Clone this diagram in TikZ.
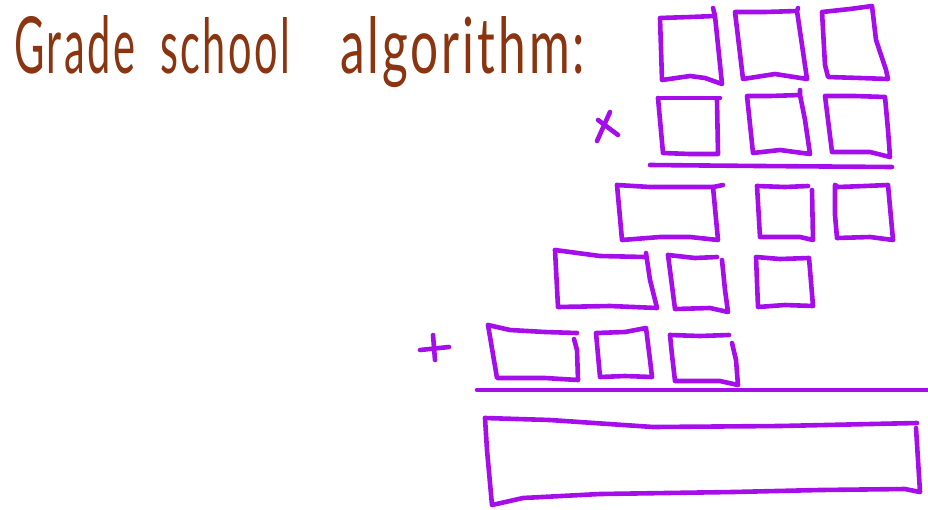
\documentclass[tikz,border=0pt]{standalone}
\usepackage{fontspec}
\setmainfont{Lato}[LetterSpace=6]
\usepackage{graphicx}
\definecolor{ink}{HTML}{A50EEA}
\definecolor{brownink}{HTML}{8A3510}
\tikzset{
  pen/.style={draw=ink, line width=4.6pt, line cap=round, line join=round},
  titletext/.style={text=brownink, inner sep=0pt, anchor=base west}
}
\begin{document}
\begin{tikzpicture}[x=1pt, y=-1pt]
\useasboundingbox (0,0) rectangle (928,509);
% title
\node[titletext] (t1) at (14,73) {\resizebox{121pt}{58pt}{\fontsize{40}{48}\selectfont Grade}};
\node[titletext] (t2) at (160,73) {\resizebox{130pt}{56pt}{\fontsize{40}{48}\selectfont school}};
\node[titletext] (t3) at (340,73) {\resizebox{245pt}{57pt}{\fontsize{40}{48}\selectfont algorithm:}};
% row 1
\draw[pen] (713,8) -- (715,16) -- (690,17) -- (660,18) -- (662,80) -- (690,76) -- (705,78) -- (722,84) -- (715,16);
\draw[pen] (798,8) -- (797,11) -- (765,12) -- (735,12) -- (743,79) -- (775,74) -- (807,79) -- (797,11);
\draw[pen] (822,12) -- (850,9) -- (872,6) -- (876,40) -- (886,70) -- (888,79) -- (860,78) -- (828,77) -- (825,65) -- (822,12);
% row 2
\draw[pen] (658,98) -- (690,98) -- (720,98);
\draw[pen] (717,100) -- (718,154) -- (690,154) -- (663,153) -- (658,98);
\draw[pen] (800,90) -- (800,95) -- (770,96) -- (747,96) -- (753,153) -- (780,150) -- (810,154) -- (805,120) -- (800,95);
\draw[pen] (825,96) -- (855,96) -- (885,97) -- (888,130) -- (890,157) -- (870,152) -- (832,152) -- (828,120) -- (825,96);
\draw[pen] (650,165) -- (760,166) -- (892,167);
% times sign
\draw[pen] (597,141) -- (610,112);
\draw[pen] (598,120) -- (618,135);
% row 3
\draw[pen] (617,185) -- (650,187) -- (713,187) -- (723,185);
\draw[pen] (713,187) -- (718,240) -- (690,237) -- (660,237) -- (622,240) -- (617,185);
\draw[pen] (757,186) -- (785,187) -- (808,186);
\draw[pen] (812,190) -- (813,240) -- (800,237) -- (760,237) -- (757,186);
\draw[pen] (835,185) -- (838,187) -- (865,186) -- (888,185) -- (893,240) -- (870,237) -- (837,238) -- (835,215) -- (835,185);
% row 4
\draw[pen] (555,250) -- (600,256) -- (645,257);
\draw[pen] (646,253) -- (650,280) -- (657,308) -- (610,306) -- (558,307) -- (555,250);
\draw[pen] (668,255) -- (695,258) -- (717,257);
\draw[pen] (722,260) -- (725,290) -- (728,312) -- (710,308) -- (675,309) -- (668,255);
\draw[pen] (756,257) -- (780,259) -- (809,258) -- (813,306) -- (785,305) -- (758,307) -- (756,257);
% row 5
\draw[pen] (488,325) -- (510,330) -- (545,332) -- (577,333);
\draw[pen] (574,339) -- (577,350) -- (578,380) -- (545,378) -- (497,378) -- (488,325);
\draw[pen] (596,333) -- (625,332) -- (646,328) -- (650,360) -- (652,377) -- (625,376) -- (600,377) -- (596,333);
\draw[pen] (670,335) -- (700,336) -- (729,335);
\draw[pen] (732,343) -- (736,360) -- (738,385) -- (720,381) -- (675,381) -- (672,355) -- (670,335);
% plus sign
\draw[pen] (420,350) -- (449,347);
\draw[pen] (433,335) -- (435,360);
% sum line
\draw[pen] (477,390) -- (928,390);
% result box
\draw[pen] (485,418) -- (550,420) -- (653,427) -- (780,426) -- (917,423);
\draw[pen] (916,428) -- (918,460) -- (920,492) -- (905,489) -- (820,490) -- (733,492) -- (600,494) -- (523,498) -- (492,505) -- (487,450) -- (485,418);
\end{tikzpicture}
\end{document}
